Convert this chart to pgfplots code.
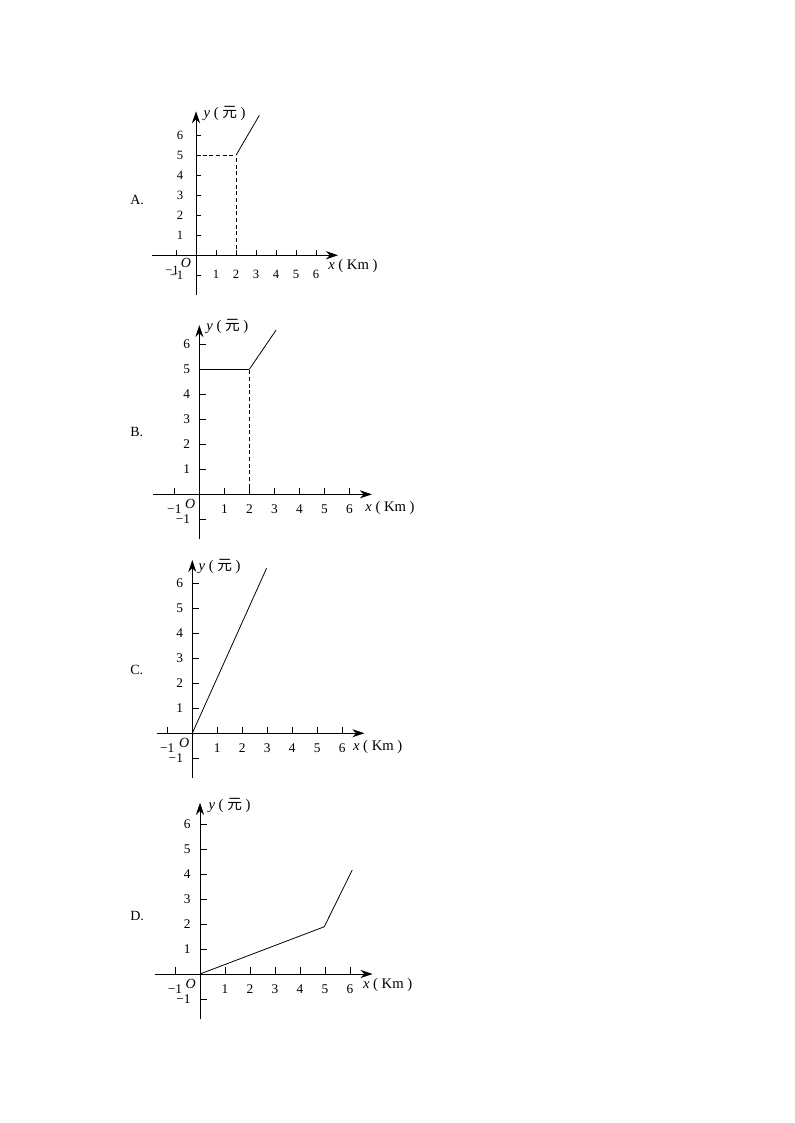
\documentclass[border=0pt]{standalone}
\usepackage{fontspec}
\setmainfont{Liberation Serif}
\newfontfamily\cjk{Noto Sans CJK SC}
\usepackage{pgfplots}
\pgfplotsset{compat=1.18}
\usetikzlibrary{arrows.meta}

% shared look of the four answer graphs
\pgfplotsset{
  quiz/.style={
    axis lines=middle,
    anchor=south west,
    axis line style={line width=0.6pt, -{Stealth[length=9pt,width=6pt]}},
    xtick={-1,1,2,3,4,5,6},
    ytick={-1,1,2,3,4,5,6},
    xticklabels={−1,1,2,3,4,5,6},
    yticklabels={−1,1,2,3,4,5,6},
    tick align=inside,
    major tick length=5pt,
    tick style={line width=0.6pt, black},
    every tick label/.append style={font=\fontsize{10}{12}\selectfont},
    xticklabel style={yshift=-4.5pt},
    yticklabel style={xshift=-3.5pt},
    clip=false,
  },
}
\tikzset{
  curve/.style={black, line width=0.6pt},
  guide/.style={black, line width=0.6pt, dash pattern=on 3pt off 2pt},
  lbl/.style={anchor=west, inner sep=0pt, font=\fontsize{11}{13}\selectfont},
  orig/.style={inner sep=0pt, font=\fontsize{10.5}{12}\selectfont},
  opt/.style={anchor=west, inner sep=0pt, font=\fontsize{10.5}{12}\selectfont},
}

\begin{document}
\begin{tikzpicture}
\path[use as bounding box] (0,0) rectangle (595.5pt,842.25pt);

% ---- A ----
\node[opt] at (97.5pt,692.25pt) {A.};
\begin{axis}[quiz, at={(114pt,620.8pt)}, x=15pt, y=15pt,
    xmin=-2.2, xmax=7.1, ymin=-2.0, ymax=7.2,
    major tick length=4pt,
    xtick={1,2,3,4,5,6}, xticklabels={1,2,3,4,5,6},
    extra x ticks={-1}, extra x tick labels={−1},
    extra x tick style={grid=none, xticklabel style={yshift=3pt, xshift=-3pt}},
    xticklabel style={yshift=-3pt},
    yticklabel style={xshift=-2.5pt},
    every tick label/.append style={font=\fontsize{9.5}{11}\selectfont}]
  \addplot[guide] coordinates {(0,5) (2,5)};
  \addplot[guide] coordinates {(2,0) (2,5)};
  \addplot[curve] coordinates {(2,5) (3.17,7)};
  \node[orig] at (axis cs:-0.5,-0.4) {\textit{O}};
  \node[lbl] at (axis cs:0.37,7.1) {\textit{y} ( {\cjk 元} )};
  \node[lbl] at (axis cs:6.6,-0.52) {\textit{x} ( Km )};
\end{axis}

% ---- B ----
\node[opt] at (97.5pt,518.5pt) {B.};
\begin{axis}[quiz, at={(115pt,437.94pt)}, x=18.75pt, y=18.75pt,
    xmin=-1.84, xmax=6.9, ymin=-1.79, ymax=6.77]
  \addplot[curve] coordinates {(0,5) (2,5)};
  \addplot[guide] coordinates {(2,0) (2,5)};
  \addplot[curve] coordinates {(2,5) (3.07,6.57)};
  \node[orig] at (axis cs:-0.37,-0.4) {\textit{O}};
  \node[lbl] at (axis cs:0.27,6.7) {\textit{y} ( {\cjk 元} )};
  \node[lbl] at (axis cs:6.63,-0.53) {\textit{x} ( Km )};
\end{axis}

% ---- C ----
\node[opt] at (97.5pt,339.75pt) {C.};
\begin{axis}[quiz, at={(117.6pt,258.55pt)}, x=18.75pt, y=18.75pt,
    xmin=-1.42, xmax=6.88, ymin=-1.8, ymax=6.93]
  \addplot[curve] coordinates {(0,0) (2.97,6.6)};
  \node[orig] at (axis cs:-0.32,-0.4) {\textit{O}};
  \node[lbl] at (axis cs:0.24,6.67) {\textit{y} ( {\cjk 元} )};
  \node[lbl] at (axis cs:6.42,-0.53) {\textit{x} ( Km )};
\end{axis}

% ---- D ----
\node[opt] at (97.5pt,155.25pt) {D.};
\begin{axis}[quiz, at={(116.25pt,77.81pt)}, x=18.75pt, y=18.75pt,
    xmin=-1.8, xmax=6.9, ymin=-1.81, ymax=6.85]
  \addplot[curve] coordinates {(0,0) (4.97,1.89) (6.09,4.16)};
  \node[orig] at (axis cs:-0.37,-0.41) {\textit{O}};
  \node[lbl] at (axis cs:0.33,6.76) {\textit{y} ( {\cjk 元} )};
  \node[lbl] at (axis cs:6.51,-0.44) {\textit{x} ( Km )};
\end{axis}
\end{tikzpicture}
\end{document}
